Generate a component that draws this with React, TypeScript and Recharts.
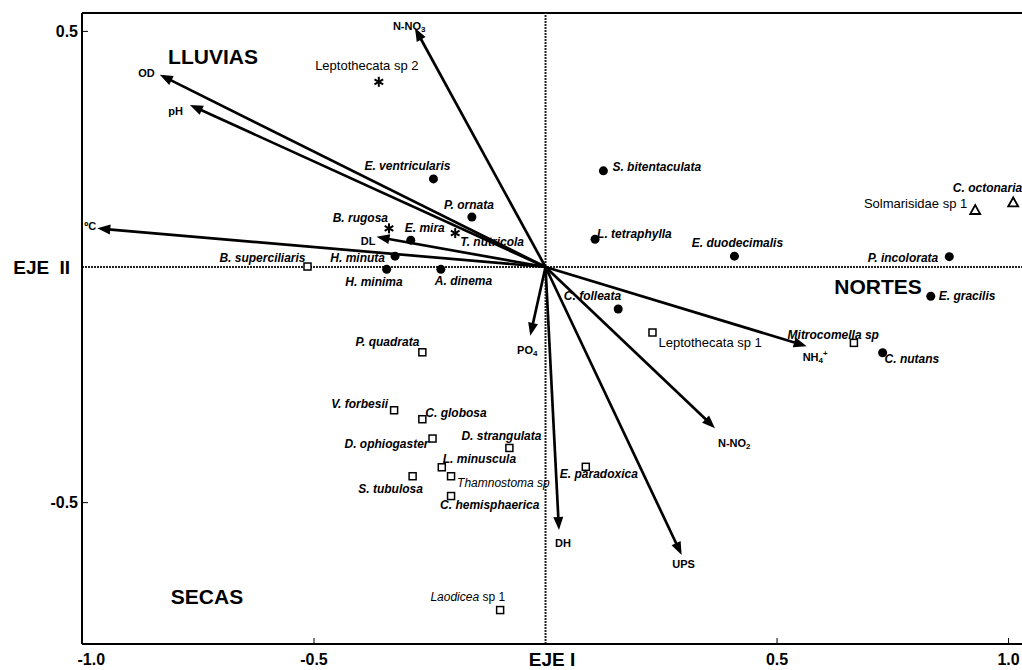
import React from 'react';
import { ScatterChart, Scatter, XAxis, YAxis, ReferenceLine } from 'recharts';

const FONT = '"Liberation Sans", Arial, Helvetica, sans-serif';

// species scores on axis I (x) and axis II (y)
const circleSpecies = [
  { name: 'E. ventricularis', x: -0.242, y: 0.187 },
  { name: 'P. ornata', x: -0.159, y: 0.106 },
  { name: 'E. mira', x: -0.291, y: 0.057 },
  { name: 'H. minuta', x: -0.325, y: 0.023 },
  { name: 'H. minima', x: -0.343, y: -0.005 },
  { name: 'A. dinema', x: -0.226, y: -0.005 },
  { name: 'S. bitentaculata', x: 0.125, y: 0.204 },
  { name: 'L. tetraphylla', x: 0.107, y: 0.059 },
  { name: 'E. duodecimalis', x: 0.408, y: 0.023 },
  { name: 'P. incolorata', x: 0.872, y: 0.022 },
  { name: 'E. gracilis', x: 0.832, y: -0.062 },
  { name: 'C. nutans', x: 0.728, y: -0.182 },
  { name: 'C. folleata', x: 0.157, y: -0.089 },
];

const starSpecies = [
  { name: 'Leptothecata sp 2', x: -0.36, y: 0.393 },
  { name: 'B. rugosa', x: -0.338, y: 0.082 },
  { name: 'T. nutricola', x: -0.195, y: 0.072 },
];

const squareSpecies = [
  { name: 'B. superciliaris', x: -0.514, y: 0.001 },
  { name: 'P. quadrata', x: -0.266, y: -0.181 },
  { name: 'V. forbesii', x: -0.327, y: -0.304 },
  { name: 'C. globosa', x: -0.266, y: -0.323 },
  { name: 'D. ophiogaster', x: -0.244, y: -0.364 },
  { name: 'D. strangulata', x: -0.078, y: -0.384 },
  { name: 'L. minuscula', x: -0.224, y: -0.425 },
  { name: 'S. tubulosa', x: -0.287, y: -0.444 },
  { name: 'Thamnostoma sp', x: -0.204, y: -0.444 },
  { name: 'C. hemisphaerica', x: -0.204, y: -0.486 },
  { name: 'E. paradoxica', x: 0.087, y: -0.424 },
  { name: 'Leptothecata sp 1', x: 0.231, y: -0.139 },
  { name: 'Mitrocomella sp', x: 0.666, y: -0.161 },
  { name: 'Laodicea sp 1', x: -0.098, y: -0.728 },
];

const triangleSpecies = [
  { name: 'Solmarisidae sp 1', x: 0.928, y: 0.121 },
  { name: 'C. octonaria', x: 1.01, y: 0.137 },
];

// environmental variables (arrow tips)
const envNames = ['OD', 'pH', 'ºC', 'N-NO3', 'DL', 'PO4', 'DH', 'UPS', 'N-NO2', 'NH4+'];
const envX = [-0.833, -0.768, -0.968, -0.282, -0.365, -0.033, 0.029, 0.294, 0.366, 0.564];
const envY = [0.408, 0.344, 0.082, 0.507, 0.064, -0.146, -0.558, -0.611, -0.342, -0.168];

const seasons = [
  { name: 'LLUVIAS', x: -0.718, y: 0.446 },
  { name: 'NORTES', x: 0.718, y: -0.042 },
  { name: 'SECAS', x: -0.731, y: -0.699 },
];

const xTicks = [-1, -0.5, 0.5, 1];
const yTicks = [-0.5, 0.5];
const X_DOMAIN = [-1.001, 1.029];
const Y_DOMAIN = [-0.8, 0.539];

// label offsets from the marker: dx, dy, anchor
const speciesLabelPos: Record<string, [number, number, string]> = {
  'E. ventricularis': [17, -13, 'end'],
  'P. ornata': [22, -12, 'end'],
  'E. mira': [-6, -12, 'start'],
  'H. minuta': [-10, 2, 'end'],
  'H. minima': [16, 13, 'end'],
  'A. dinema': [-6, 12, 'start'],
  'S. bitentaculata': [9, -4, 'start'],
  'L. tetraphylla': [2, -5, 'start'],
  'E. duodecimalis': [3, -13, 'middle'],
  'P. incolorata': [-11, 1, 'end'],
  'E. gracilis': [8, 0, 'start'],
  'C. nutans': [2, 6, 'start'],
  'C. folleata': [3, -13, 'end'],
  'Leptothecata sp 2': [-12, -16, 'middle'],
  'B. rugosa': [-1, -10, 'end'],
  'T. nutricola': [5, 9, 'start'],
  'B. superciliaris': [-2, -9, 'end'],
  'P. quadrata': [-3, -10, 'end'],
  'V. forbesii': [-6, -6, 'end'],
  'C. globosa': [3, -6, 'start'],
  'D. ophiogaster': [-4, 5, 'end'],
  'D. strangulata': [-8, -12, 'middle'],
  'L. minuscula': [1, -8, 'start'],
  'S. tubulosa': [-22, 13, 'middle'],
  'Thamnostoma sp': [6, 7, 'start'],
  'C. hemisphaerica': [-11, 9, 'start'],
  'E. paradoxica': [-26, 7, 'start'],
  'Leptothecata sp 1': [6, 10, 'start'],
  'Mitrocomella sp': [25, -8, 'end'],
  'Laodicea sp 1': [5, -13, 'end'],
  'Solmarisidae sp 1': [-8, -6, 'end'],
  'C. octonaria': [9, -14, 'end'],
};

const envLabelPos: Record<string, [number, number, string]> = {
  OD: [-5, -2, 'end'],
  pH: [-7, 6, 'end'],
  'ºC': [-1, -2, 'end'],
  'N-NO3': [-22, -2, 'start'],
  DL: [-1, 4, 'end'],
  PO4: [-3, 14, 'middle'],
  DH: [4, 13, 'middle'],
  UPS: [2, 9, 'middle'],
  'N-NO2': [3, 15, 'start'],
  'NH4+': [-4, 11, 'start'],
};

const plainNames = ['Leptothecata sp 2', 'Leptothecata sp 1', 'Solmarisidae sp 1'];

const speciesText = (name: string) => {
  if (name === 'Laodicea sp 1') {
    return (
      <>
        <tspan fontStyle="italic">Laodicea</tspan>
        <tspan fontStyle="normal"> sp 1</tspan>
      </>
    );
  }
  return name;
};

const envText = (name: string) => {
  const sub = (t: string) => (
    <tspan fontSize={8} dy={3}>
      {t}
    </tspan>
  );
  if (name === 'N-NO3') return <>N-NO{sub('3')}</>;
  if (name === 'N-NO2') return <>N-NO{sub('2')}</>;
  if (name === 'PO4') return <>PO{sub('4')}</>;
  if (name === 'NH4+')
    return (
      <>
        NH{sub('4')}
        <tspan fontSize={8} dy={-7}>
          +
        </tspan>
      </>
    );
  return name;
};

const makeSpeciesShape = (marker: string) => (props: any) => {
  const { cx, cy, payload } = props;
  const [dx, dy, anchor] = speciesLabelPos[payload.name] || [6, 0, 'start'];
  const plain = plainNames.includes(payload.name);
  const light = plain || payload.name === 'Thamnostoma sp' || payload.name === 'Laodicea sp 1';
  let mark: React.ReactNode = null;
  if (marker === 'circle') {
    mark = <circle cx={cx} cy={cy} r={4.5} fill="#000" />;
  } else if (marker === 'square') {
    mark = <rect x={cx - 3.5} y={cy - 3.5} width={7} height={7} fill="#fff" stroke="#000" strokeWidth={1.5} />;
  } else if (marker === 'triangle') {
    mark = (
      <polygon
        points={`${cx},${cy - 5} ${cx - 5},${cy + 4} ${cx + 5},${cy + 4}`}
        fill="#fff"
        stroke="#000"
        strokeWidth={1.8}
      />
    );
  } else {
    const r = 5;
    const a = r * Math.cos(Math.PI / 6);
    const b = r * Math.sin(Math.PI / 6);
    mark = (
      <g stroke="#000" strokeWidth={2}>
        <line x1={cx} y1={cy - r} x2={cx} y2={cy + r} />
        <line x1={cx - a} y1={cy - b} x2={cx + a} y2={cy + b} />
        <line x1={cx - a} y1={cy + b} x2={cx + a} y2={cy - b} />
      </g>
    );
  }
  return (
    <g>
      {mark}
      <text
        x={cx + dx}
        y={cy + dy}
        textAnchor={anchor as any}
        dominantBaseline="central"
        fontFamily={FONT}
        fontSize={plain ? 13 : 12}
        fontWeight={light ? 'normal' : 'bold'}
        fontStyle={plain ? 'normal' : 'italic'}
        fill="#000"
      >
        {speciesText(payload.name)}
      </text>
    </g>
  );
};

const SeasonShape = (props: any) => {
  const { cx, cy, payload } = props;
  return (
    <text
      x={cx}
      y={cy}
      textAnchor="middle"
      dominantBaseline="central"
      fontFamily={FONT}
      fontSize={21}
      fontWeight="bold"
      fill="#000"
    >
      {payload.name}
    </text>
  );
};

const makeArrow = (name: string) => (props: any) => {
  const { x1, y1, x2, y2 } = props;
  const dx = x2 - x1;
  const dy = y2 - y1;
  const len = Math.hypot(dx, dy) || 1;
  const ux = dx / len;
  const uy = dy / len;
  const hl = 13;
  const hw = 5;
  const bx = x2 - ux * hl;
  const by = y2 - uy * hl;
  const [ldx, ldy, anchor] = envLabelPos[name];
  return (
    <g>
      <line x1={x1} y1={y1} x2={bx + ux * 2} y2={by + uy * 2} stroke="#000" strokeWidth={2.7} />
      <polygon
        points={`${x2},${y2} ${bx - uy * hw},${by + ux * hw} ${bx + uy * hw},${by - ux * hw}`}
        fill="#000"
      />
      <text
        x={x2 + ldx}
        y={y2 + ldy}
        textAnchor={anchor as any}
        dominantBaseline="central"
        fontFamily={FONT}
        fontSize={11}
        fontWeight="bold"
        fill="#000"
      >
        {envText(name)}
      </text>
    </g>
  );
};

const XTick = (props: any) => {
  const { x, y, payload } = props;
  const first = payload.value === xTicks[0];
  return (
    <g>
      <line x1={x} y1={y} x2={x} y2={y - 6} stroke="#000" strokeWidth={1} />
      <text
        x={first ? x - 5 : x}
        y={y + 21}
        textAnchor={first ? 'start' : 'middle'}
        fontFamily={FONT}
        fontSize={16}
        fontWeight="bold"
        fill="#000"
      >
        {Number(payload.value).toFixed(1)}
      </text>
    </g>
  );
};

const YTick = (props: any) => {
  const { x, y, payload } = props;
  return (
    <g>
      <line x1={x} y1={y} x2={x + 6} y2={y} stroke="#000" strokeWidth={1} />
      <text
        x={x - 4}
        y={y}
        textAnchor="end"
        dominantBaseline="central"
        fontFamily={FONT}
        fontSize={16}
        fontWeight="bold"
        fill="#000"
      >
        {Number(payload.value).toFixed(1)}
      </text>
    </g>
  );
};

export default function App() {
  return (
    <div style={{ position: 'absolute', left: 0, top: 0, background: '#fff' }}>
      <ScatterChart width={1022} height={670} margin={{ top: 13, right: 0, bottom: 0, left: 0 }}>
        <XAxis
          type="number"
          dataKey="x"
          domain={X_DOMAIN}
          allowDataOverflow
          ticks={xTicks}
          tick={<XTick />}
          tickLine={false}
          tickSize={0}
          tickMargin={0}
          height={26}
          axisLine={{ stroke: '#000', strokeWidth: 2 }}
          label={{
            value: 'EJE I',
            position: 'center',
            dy: 2,
            fill: '#000',
            fontSize: 19,
            fontWeight: 'bold',
            fontFamily: FONT,
          }}
        />
        <YAxis
          type="number"
          dataKey="y"
          domain={Y_DOMAIN}
          allowDataOverflow
          ticks={yTicks}
          tick={<YTick />}
          tickLine={false}
          tickSize={0}
          tickMargin={0}
          width={82}
          axisLine={{ stroke: '#000', strokeWidth: 2 }}
        />
        <ReferenceLine y={Y_DOMAIN[1]} stroke="#000" strokeWidth={2} />
        <ReferenceLine
          y={0}
          stroke="#222"
          strokeWidth={2}
          strokeDasharray="2 1"
          label={{
            value: 'EJE II',
            position: 'left',
            offset: 12,
            fill: '#000',
            fontSize: 19,
            fontWeight: 'bold',
            fontFamily: FONT,
            wordSpacing: 5,
          }}
        />
        <ReferenceLine x={0} stroke="#222" strokeWidth={2} strokeDasharray="2 1" />
        {envNames.map((name, i) => (
          <ReferenceLine
            key={name}
            segment={[
              { x: 0, y: 0 },
              { x: envX[i], y: envY[i] },
            ]}
            shape={makeArrow(name)}
          />
        ))}
        <Scatter data={circleSpecies} shape={makeSpeciesShape('circle')} isAnimationActive={false} />
        <Scatter data={starSpecies} shape={makeSpeciesShape('star')} isAnimationActive={false} />
        <Scatter data={squareSpecies} shape={makeSpeciesShape('square')} isAnimationActive={false} />
        <Scatter data={triangleSpecies} shape={makeSpeciesShape('triangle')} isAnimationActive={false} />
        <Scatter data={seasons} shape={SeasonShape} isAnimationActive={false} />
      </ScatterChart>
    </div>
  );
}
